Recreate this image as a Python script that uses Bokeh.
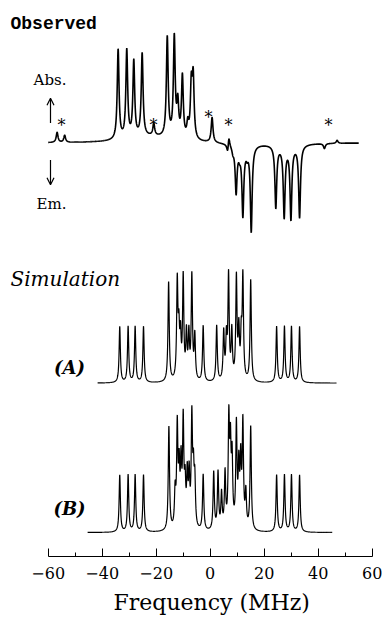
import numpy as np
from bokeh.plotting import figure
from bokeh.models import Range1d, Label, Arrow, OpenHead, FixedTicker, Title
from bokeh.embed import file_html
from bokeh.resources import INLINE

# ---------------- data (MHz, arbitrary intensity units) ----------------
# Observed spectrum: absorption (positive) lines
obs_abs_pos = [-56.7, -53.9, -34.1, -30.9, -28.3, -25.2, -20.9, -15.9, -13.3,
               -12.0, -10.3, -8.3, -7.0, -6.3, 0.7, 6.9, 47.0]
obs_abs_amp = [10, 7, 90, 88, 76, 83, 12, 100, 100, 33, 62, 14, 52, 60, 25, 12, 3]
# Observed spectrum: emission (negative) lines
obs_em_pos = [6.5, 8.4, 9.6, 10.9, 12.1, 13.7, 15.2, 24.3, 27.4, 29.9, 33.1, 42.3]
obs_em_amp = [10, 5, 45, 5, 66, 6, 85, 62, 70, 72, 72, 5]
# Observed spectrum: broad background features
obs_broad_pos = [-22.0, 11.5, 28.5]
obs_broad_amp = [6, -6, -3]
obs_broad_wid = [10.0, 3.5, 5.5]
obs_range = [-60.0, 55.0]

# Simulation (A)
simA_pos = [-33.5, -30.4, -27.8, -24.7, 24.6, 27.5, 30.1, 33.1,
            -15.4, -12.2, -10.0, -6.8, 6.8, 9.7, 12.1, 15.0,
            -2.6, 2.4,
            -11.6, -11.0, -8.8, -7.9, -5.7, 5.0, 6.0, 8.0, 10.6, 11.5]
simA_amp = [56, 56, 56, 56, 56, 56, 56, 56,
            100, 97, 102, 104, 104, 102, 102, 102,
            56, 56,
            45, 40, 45, 44, 44, 48, 40, 48, 48, 40]
simA_range = [-41.7, 46.8]

# Simulation (B)
simB_pos = [-33.5, -30.4, -27.8, -24.7, 24.6, 27.5, 30.1, 33.1,
            -15.3, -12.2, -10.0, -6.8, 6.9, 9.7, 12.1, 15.0,
            -2.6, 1.3, 2.9,
            -11.5, -10.8, -8.5, -7.8, -6.2, -5.7, 5.5, 7.5, 8.1, 10.6, 11.3,
            -13.0, -9.3, 4.2, 13.2]
simB_amp = [57, 57, 57, 57, 57, 57, 57, 57,
            104, 100, 104, 108, 106, 102, 104, 104,
            56, 58, 57,
            55, 60, 50, 50, 50, 45, 55, 75, 66, 58, 64,
            35, 40, 35, 35]
simB_range = [-45.4, 45.2]

tick_values = [-60, -40, -20, 0, 20, 40, 60]
minor_values = [-50, -30, -10, 10, 30, 50]
tick_labels = ["\u221260", "\u221240", "\u221220", "0", "20", "40", "60"]
x_title = "Frequency (MHz)"

# ---------------- layout helpers ----------------
X0_PX, PX_PER_MHZ = 209.7, 2.7
FRAME_H = 558


def px2x(px):
    return (px - X0_PX) / PX_PER_MHZ


def py2y(py):
    return FRAME_H - py


def lor(x, x0, g):
    return g * g / ((x - x0) ** 2 + g * g)


def spectrum(rng, pos, amp, g, step=0.01):
    x = np.arange(rng[0], rng[1] + step, step)
    y = np.zeros_like(x)
    for p_, a in zip(pos, amp):
        y += a * lor(x, p_, g)
    return x, y


# observed
xo = np.arange(obs_range[0], obs_range[1] + 0.01, 0.01)
yo = np.zeros_like(xo)
for p_, a in zip(obs_abs_pos, obs_abs_amp):
    yo += a * lor(xo, p_, 0.4)
for p_, a in zip(obs_em_pos, obs_em_amp):
    yo -= a * lor(xo, p_, 0.4)
for p_, a, w in zip(obs_broad_pos, obs_broad_amp, obs_broad_wid):
    yo += a * lor(xo, p_, w)

xa, ya = spectrum(simA_range, simA_pos, simA_amp, 0.28)
xb, yb = spectrum(simB_range, simB_pos, simB_amp, 0.28)

OBS_BASE = py2y(143)
A_BASE = py2y(384)
B_BASE = py2y(534)

p = figure(width=385, height=620, output_backend="svg", toolbar_location=None,
           x_range=Range1d(px2x(0), px2x(385)), y_range=Range1d(0, FRAME_H),
           y_axis_location=None, min_border_left=0, min_border_right=0,
           min_border_top=0, min_border_bottom=620 - FRAME_H, outline_line_color=None,
           background_fill_color="white", border_fill_color="white")
p.xgrid.visible = False
p.ygrid.visible = False

p.line(xo, yo + OBS_BASE, line_color="black", line_width=1.6)
p.line(xa, ya + A_BASE, line_color="black", line_width=1.2)
p.line(xb, yb + B_BASE, line_color="black", line_width=1.2)

ax = p.xaxis[0]
ax.ticker = FixedTicker(ticks=tick_values, minor_ticks=minor_values)
ax.major_label_overrides = {v: s for v, s in zip(tick_values, tick_labels)}
ax.bounds = (-60, 60)
ax.axis_line_color = "black"
ax.axis_line_width = 1
ax.major_tick_in = 8
ax.major_tick_out = 0
ax.minor_tick_in = 4
ax.minor_tick_out = 0
ax.major_label_standoff = 10
ax.major_label_text_font = "DejaVu Serif"
ax.major_label_text_font_size = "16px"
ax.major_label_text_color = "black"

p.add_layout(Title(text=x_title, align="left", offset=113, text_font="DejaVu Serif",
                   text_font_size="22px", text_font_style="normal",
                   text_color="black", standoff=12), "below")


def add_text(txt, px, py, font, size, style="normal", align="left", baseline="middle"):
    p.add_layout(Label(x=px2x(px), y=py2y(py), text=txt, text_font=font,
                       text_font_size=size, text_font_style=style,
                       text_align=align, text_baseline=baseline, text_color="black"))


add_text("Observed", 10, 24, "Liberation Mono", "18px", "bold")
add_text("Abs.", 49.5, 80, "DejaVu Serif", "15px", align="center")
add_text("Em.", 51, 204, "DejaVu Serif", "15px", align="center")
add_text("Simulation", 10, 280, "DejaVu Serif", "20px", "italic")
add_text("(A)", 69, 368, "DejaVu Serif", "18px", "bold italic", align="center")
add_text("(B)", 69, 510, "DejaVu Serif", "18px", "bold italic", align="center")

for sx, sy in [(61, 125), (153, 125), (208, 117), (228, 125), (328, 125)]:
    add_text("*", sx, sy, "DejaVu Serif", "16px", align="center", baseline="alphabetic")

p.add_layout(Arrow(end=OpenHead(size=7, line_width=1.2, line_color="black"),
                   x_start=px2x(50), y_start=py2y(123), x_end=px2x(50), y_end=py2y(98),
                   line_width=1.2, line_color="black"))
p.add_layout(Arrow(end=OpenHead(size=7, line_width=1.2, line_color="black"),
                   x_start=px2x(50), y_start=py2y(160), x_end=px2x(50), y_end=py2y(185),
                   line_width=1.2, line_color="black"))

open("out.html", "w").write(file_html(p, INLINE))
